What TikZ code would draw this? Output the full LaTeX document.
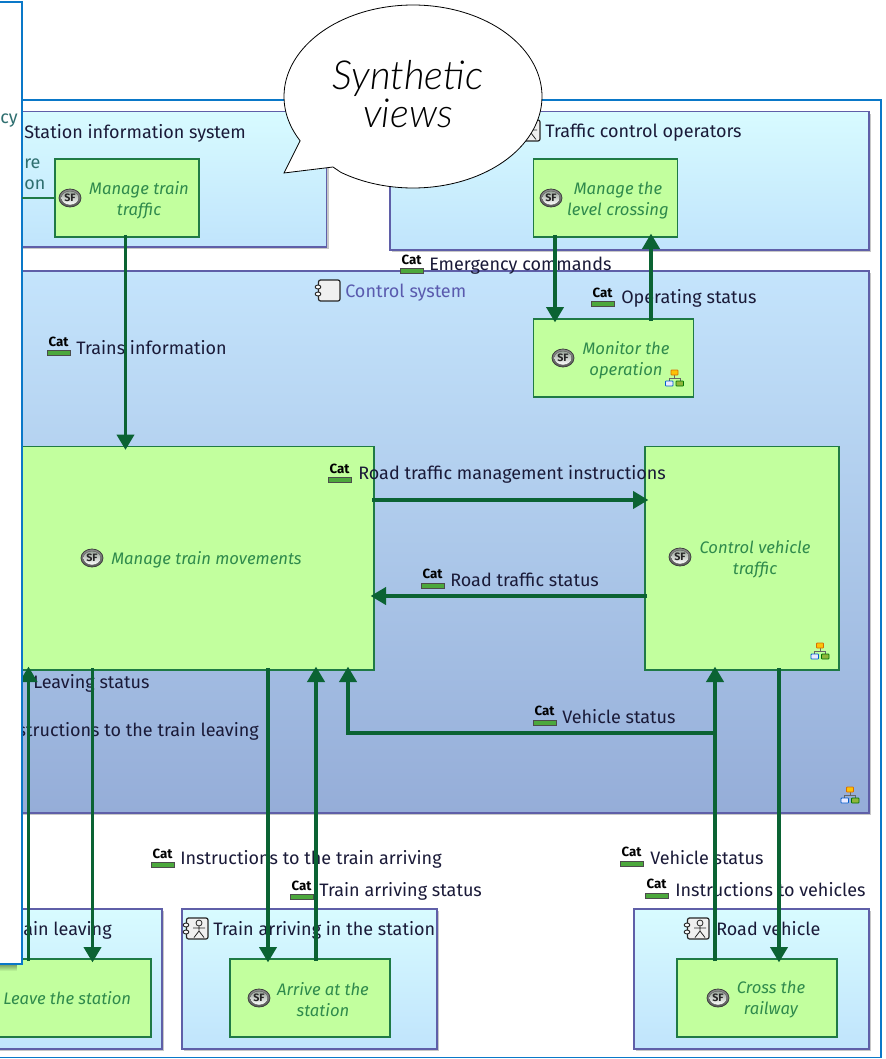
\documentclass[tikz,border=0pt]{standalone}
\usepackage{fontspec}
\setmainfont{Fira Sans}
\newfontfamily\handf{Lato Light}
\usetikzlibrary{arrows.meta,shadows,calc,fadings}
\definecolor{flowc}{HTML}{0B6333}
\definecolor{boxgreen}{HTML}{C2FF9E}
\definecolor{boxline}{HTML}{1F7A45}
\definecolor{contline}{HTML}{5F5FA8}
\definecolor{frameblue}{HTML}{0A78C8}
\definecolor{nodetext}{HTML}{2F8A4C}
\definecolor{labeltext}{HTML}{1A1A38}
\definecolor{systext}{HTML}{5A5AAE}
\definecolor{cutteal}{HTML}{2F6F70}
\definecolor{catbar}{HTML}{4CA83C}
\definecolor{cyanlight}{HTML}{D8FBFF}
\definecolor{cyanlow}{HTML}{C0E4FC}
\definecolor{syshigh}{HTML}{C4E4FC}
\definecolor{syslow}{HTML}{95ADD8}
\newcommand{\pxbox}[6]{%
  \pgfmathsetlengthmacro{\bw}{(#5-#3)*0.75pt}%
  \pgfmathsetlengthmacro{\bh}{(#6-#4)*0.75pt}%
  \node[#2,minimum width=\bw,minimum height=\bh] (#1) at ({(#3+#5)/2},{(#4+#6)/2}) {};}
\newcommand{\catlab}[5]{%
  \node[cattext] (#1c) at (#2+11.5,#4-5) {Cat};
  \node[catbarbox] (#1b) at (#2+11.5,#4+6.5) {};
  \node[labtext] (#1) at (#3,#4+1) {#5};}
\tikzset{
  x=0.75pt,y=-0.75pt,
  container/.style={draw=contline,line width=0.9pt,top color=#1,inner sep=0pt,outer sep=0pt,
    drop shadow={shadow xshift=1.6pt,shadow yshift=-1.6pt,fill=black,opacity=0.22}},
  lightbox/.style={container=cyanlight,bottom color=cyanlow},
  sysbox/.style={container=syshigh,bottom color=syslow},
  fnbox/.style={draw=boxline,line width=0.9pt,fill=boxgreen,inner sep=0pt,outer sep=0pt},
  fntext/.style={text=nodetext,font=\fontsize{12.5}{15.75}\selectfont\itshape,align=center,inner sep=0pt},
  labtext/.style={text=labeltext,font=\fontsize{13.5}{15}\selectfont,anchor=west,inner sep=0pt},
  cattext/.style={text=black,font=\fontsize{10}{11}\selectfont\bfseries,inner sep=0pt},
  catbarbox/.style={draw=black!70,line width=0.6pt,fill=catbar,minimum width=17.25pt,minimum height=3.8pt,inner sep=0pt},
  flow/.style={draw=flowc,line width=2.3pt,-{Triangle[width=13pt,length=11.5pt]},shorten >=-2.5pt,shorten <=-1.5pt},
  sficon/.pic={
    \draw[draw=black!75,line width=0.6pt,top color=black!45,bottom color=black!65] (0,0) ellipse [x radius=11,y radius=9];
    \fill[top color=green!10!black!40,bottom color=white] (0,0) ellipse [x radius=8.5,y radius=6.8];
    \node[font=\fontsize{8}{8}\selectfont\bfseries,text=black!85,inner sep=0pt] at (0,0) {SF};
  },
  treeicon/.pic={
    \draw[draw=black!60,line width=0.35pt] (0,-3) -- (0,0) (-5.5,3) -- (-5.5,0) -- (5.5,0) -- (5.5,3);
    \draw[draw=orange!85!black,fill=yellow!55!orange,line width=0.6pt,rounded corners=0.5pt] (-3.5,-8) rectangle (3.5,-3);
    \draw[draw=blue!55!cyan!80!black,fill=blue!8,line width=0.6pt,rounded corners=0.5pt] (-9,3) rectangle (-1.5,8);
    \draw[draw=green!45!black,fill=yellow!60!green!80!black,line width=0.6pt,rounded corners=0.5pt] (1.5,3) rectangle (9,8);
  },
  compicon/.pic={
    \draw[draw=black!85,fill=white!94!black,line width=0.9pt,rounded corners=1.5pt] (3.5,0) rectangle (25,21);
    \draw[draw=black!85,fill=white,line width=0.7pt] (3,7) ellipse [x radius=2.8,y radius=2];
    \draw[draw=black!85,fill=white,line width=0.7pt] (3,14) ellipse [x radius=2.8,y radius=2];
  },
  actoricon/.pic={
    \pic {compicon};
    \draw[draw=black!85,line width=0.6pt] (16,5) circle [radius=3] (16,8) -- (16,13) (10,10) -- (22,10) (16,13) -- (11,19.5) (16,13) -- (21,19.5);
  },
}
\begin{document}
\begin{tikzpicture}
\useasboundingbox (0,0) rectangle (885,1059);
\clip (0,0) rectangle (885,1059);
% outer frame
\pxbox{frame}{draw=frameblue,line width=1pt,fill=white,inner sep=0pt,outer sep=0pt}{-5}{100}{881}{1057.5}
% containers
\pxbox{sis}{lightbox}{-5}{111.5}{326.5}{247}
\pxbox{tco}{lightbox}{390}{111.5}{869}{250}
\pxbox{cs}{sysbox}{-5}{271}{869}{813}
\pxbox{tl}{lightbox}{-5}{909}{162}{1049}
\pxbox{ta}{lightbox}{182}{909}{437}{1049}
\pxbox{rv}{lightbox}{634}{909}{869}{1049}
% functions
\pxbox{mtt}{fnbox}{55}{159}{199}{237}
\pxbox{mlc}{fnbox}{533.5}{159}{677.5}{237}
\pxbox{mop}{fnbox}{533.5}{319}{693.5}{397}
\pxbox{mtm}{fnbox}{-5}{446.5}{374}{670}
\pxbox{cvt}{fnbox}{645}{446.5}{839}{670}
\pxbox{lts}{fnbox}{-5}{959}{151}{1037}
\pxbox{aas}{fnbox}{230}{959}{390}{1037}
\pxbox{ctr}{fnbox}{677}{959}{837}{1037}
% container titles
\node[labtext] (sist) at (24,133) {Station information system};
\node[labtext] (tcot) at (545,133) {Traffic control operators};
\node[labtext,text=systext] (cst) at (345,292.5) {Control system};
\node[labtext] (tlt) at (23,930.5) {ain leaving};
\node[labtext] (tat) at (213,930.5) {Train arriving in the station};
\node[labtext] (rvt) at (716,929) {Road vehicle};
\pic at (515,120) {actoricon};
\pic at (315,280) {compicon};
\pic at (183,918) {actoricon};
\pic at (684,918) {actoricon};
% function texts
\node[fntext] (mttt) at (139,200.5) {Manage train\\traffic};
\node[fntext] (mlct) at (618,200.5) {Manage the\\level crossing};
\node[fntext] (mopt) at (626,360) {Monitor the\\operation};
\node[fntext,anchor=west] (mtmt) at (111,560) {Manage train movements};
\node[fntext] (cvtt) at (755,559.5) {Control vehicle\\traffic};
\node[fntext,anchor=west] (ltst) at (3,998.5) {Leave the station};
\node[fntext] (aast) at (323,999.5) {Arrive at the\\station};
\node[fntext] (ctrt) at (771,1000) {Cross the\\railway};
\pic at (70,198) {sficon};
\pic at (551,198) {sficon};
\pic at (563,358) {sficon};
\pic at (92,558) {sficon};
\pic at (680,557) {sficon};
\pic at (259,998) {sficon};
\pic at (718,998) {sficon};
\pic at (674.5,378) {treeicon};
\pic at (820,651) {treeicon};
\pic at (850,795) {treeicon};
% flow labels
\catlab{l1}{400}{429}{264.5}{Emergency commands}
\catlab{l2}{591}{621}{297.5}{Operating status}
\catlab{l3}{47}{76}{346.5}{Trains information}
\catlab{l4}{328}{358}{473.5}{Road traffic management instructions}
\catlab{l5}{421}{450}{579}{Road traffic status}
\catlab{l6}{533}{562}{716}{Vehicle status}
\catlab{l7}{151}{180}{858.5}{Instructions to the train arriving}
\catlab{l8}{290}{319}{890.5}{Train arriving status}
\catlab{l9}{620}{650}{857}{Vehicle status}
\catlab{l10}{645}{675}{889}{Instructions to vehicles}
\node[labtext] (l11) at (33,683.5) {Leaving status};
\node[labtext,anchor=east] (l12) at (259,731.5) {structions to the train leaving};
% flows
\coordinate (xa) at (125.5,0);
\coordinate (xb) at (555,0);
\coordinate (xc) at (651,0);
\coordinate (xd) at (28.5,0);
\coordinate (xe) at (92.5,0);
\coordinate (xf) at (268,0);
\coordinate (xg) at (316,0);
\coordinate (xh) at (715,0);
\coordinate (xi) at (779,0);
\coordinate (xj) at (348,0);
\coordinate (ya) at (0,500);
\coordinate (yb) at (0,596);
\coordinate (vj) at (715,733);
\draw[flow] (mtt.south -| xa) -- (mtm.north -| xa);
\draw[flow] (mlc.south -| xb) -- (mop.north -| xb);
\draw[flow] (mop.north -| xc) -- (mlc.south -| xc);
\draw[flow] (mtm.east |- ya) -- (cvt.west |- ya);
\draw[flow] (cvt.west |- yb) -- (mtm.east |- yb);
\draw[flow] (lts.north -| xd) -- (mtm.south -| xd);
\draw[flow] (mtm.south -| xe) -- (lts.north -| xe);
\draw[flow] (mtm.south -| xf) -- (aas.north -| xf);
\draw[flow] (aas.north -| xg) -- (mtm.south -| xg);
\draw[flow] (ctr.north -| xh) -- (cvt.south -| xh);
\draw[flow] (cvt.south -| xi) -- (ctr.north -| xi);
\draw[flow,shorten <=0pt] (vj) -- (vj -| xj) -- (mtm.south -| xj);
% overlay panel
\fill[black,opacity=0.4,path fading=south] (-5,964) rectangle (17,971);
\pxbox{panel}{draw=frameblue,line width=1pt,fill=white,inner sep=0pt,outer sep=0pt}{-5}{2}{22}{964}
\draw[draw=boxline,line width=0.9pt] (panel.east |- mtt.west) -- (mtt.west);
\node[labtext,text=cutteal] (cut1) at (0,120.5) {cy};
\node[labtext,text=cutteal] (cut2) at (24,164) {re};
\node[labtext,text=cutteal] (cut3) at (24,185) {on};
% speech bubble
\draw[draw=black,line width=0.6pt,fill=white]
  (284,173) -- (300,141)
  -- plot[domain=151:484,samples=120,smooth] ({413+129*cos(\x)},{96.5+91.5*sin(\x)})
  -- (333,167) -- cycle;
\node[font=\fontsize{30}{28.5}\selectfont\handf\itshape,text=black,align=center,inner sep=0pt] (bub) at (408,94) {Synthetic\\views};
\end{tikzpicture}
\end{document}
